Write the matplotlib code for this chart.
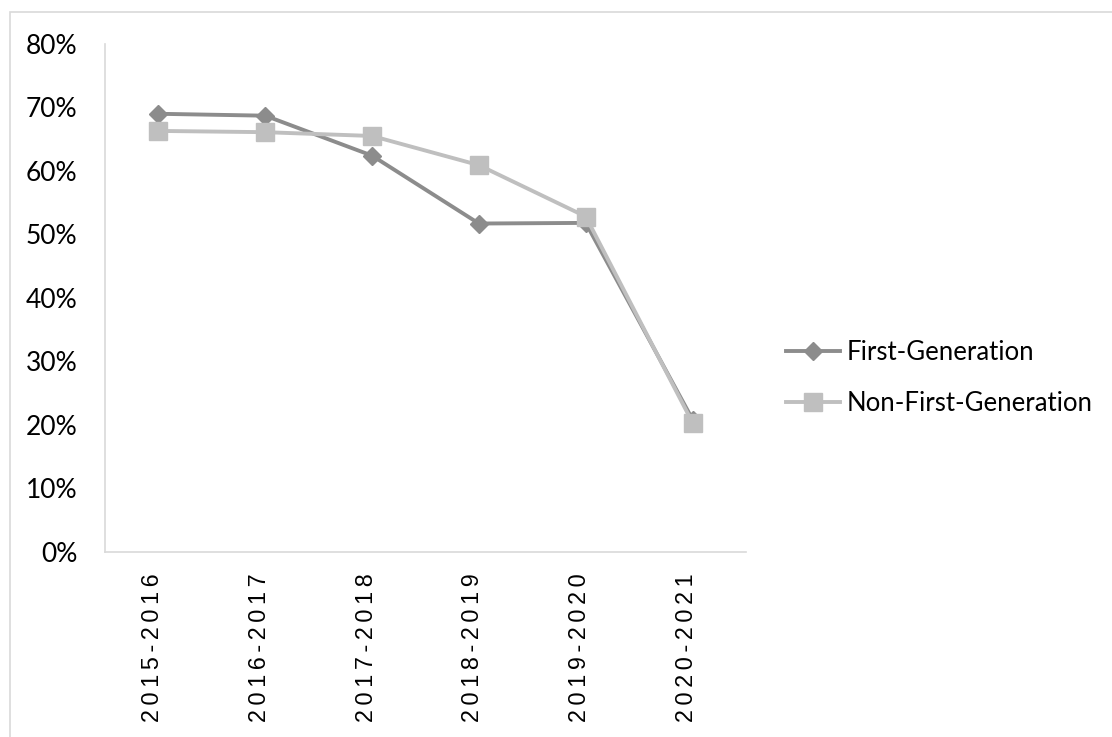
import matplotlib
matplotlib.use("Agg")
import matplotlib.pyplot as plt
from matplotlib.patches import Rectangle
from matplotlib.ticker import FuncFormatter
from matplotlib.transforms import ScaledTranslation

# school years and completion shares
years = ["2015-2016", "2016-2017", "2017-2018", "2018-2019", "2019-2020", "2020-2021"]
first_gen = [0.690, 0.687, 0.624, 0.517, 0.518, 0.208]
non_first_gen = [0.663, 0.661, 0.655, 0.609, 0.528, 0.203]

W, H = 1112, 737
fig = plt.figure(figsize=(W / 100, H / 100), dpi=100)

# light chart-area border (runs off the right and bottom edges)
fig.patches.append(Rectangle((10 / W, -0.1), 1.2, 1 - 12 / H + 0.1,
                             transform=fig.transFigure, fill=False,
                             edgecolor="#d9d9d9", linewidth=1.2))

ax = fig.add_axes([105 / W, (H - 551.5) / H, (746 - 105) / W, (551.5 - 44) / H])

x = range(len(years))
ax.plot(x, first_gen, color="#8c8c8c", linewidth=2.8, marker="D",
        markersize=9, label="First-Generation", zorder=3)
ax.plot(x, non_first_gen, color="#bfbfbf", linewidth=2.8, marker="s",
        markersize=13, label="Non-First-Generation", zorder=4)

ax.set_xlim(-0.5, len(years) - 0.5)
ax.set_ylim(0, 0.8)
ax.set_yticks([i / 10 for i in range(9)])
ax.yaxis.set_major_formatter(FuncFormatter(lambda v, _: f"{v * 100:.0f}%"))

# spaced-out year labels, read bottom to top
ax.set_xticks(list(x))
ax.set_xticklabels(["\u2009".join(y) for y in years], rotation=90,
                   fontsize=16.8, family=["Liberation Sans", "DejaVu Sans"])
ax.tick_params(axis="x", length=0, pad=16)
ax.tick_params(axis="y", length=0, pad=20, labelsize=19)
shift = ScaledTranslation(-6 / 100, 0, fig.dpi_scale_trans)
for lbl in ax.get_xticklabels():
    lbl.set_transform(lbl.get_transform() + shift)
for lbl in ax.get_yticklabels():
    lbl.set_family("Lato")

for side in ("top", "right"):
    ax.spines[side].set_visible(False)
for side in ("left", "bottom"):
    ax.spines[side].set_color("#d9d9d9")
    ax.spines[side].set_linewidth(1.2)

fs = 18.5
fig.legend(loc="center left", bbox_to_anchor=(786 / W, 1 - 378 / H),
           frameon=False, prop={"family": "Lato", "size": fs},
           handlelength=39 / fs, handletextpad=4.5 / fs, borderpad=0,
           borderaxespad=0, labelspacing=1.0)

fig.savefig("out.png", dpi=100)
